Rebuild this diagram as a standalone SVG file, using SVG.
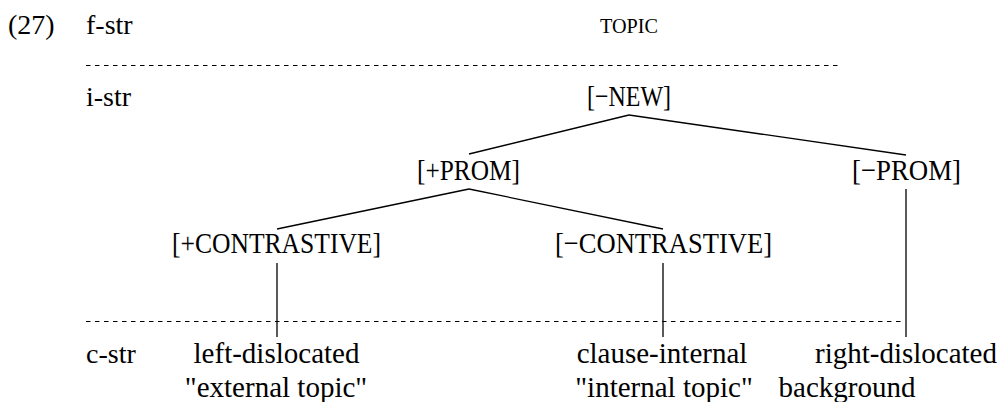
<svg xmlns="http://www.w3.org/2000/svg" width="999" height="402" viewBox="0 0 999 402" font-family="Liberation Serif, serif">
  <style>
    .lbl { font-size: 28px; }
    .leaf { font-size: 29px; text-anchor: middle; }
    .feat { font-size: 30px; text-anchor: middle; }
    .tier { stroke: #000; stroke-width: 1; stroke-dasharray: 4.5 4.5; fill: none; }
    .edge { stroke: #000; stroke-width: 1.3; fill: none; }
  </style>
  <rect width="999" height="402" fill="#fff"/>

  <!-- tier labels -->
  <g id="labels">
    <text class="lbl" x="8" y="34">(27)</text>
    <text class="lbl" x="86" y="34">f-str</text>
    <text class="lbl" x="86" y="106">i-str</text>
    <text class="lbl" x="86" y="363">c-str</text>
  </g>

  <!-- tier separators -->
  <g id="separators">
    <line class="tier" x1="86" y1="65.5" x2="840" y2="65.5"/>
    <line class="tier" x1="86" y1="321.5" x2="905" y2="321.5"/>
  </g>

  <!-- connectors -->
  <g id="connectors">
    <line class="edge" x1="629" y1="115" x2="469" y2="154"/>
    <line class="edge" x1="629" y1="115" x2="906" y2="155"/>
    <line class="edge" x1="469" y1="189" x2="277" y2="229"/>
    <line class="edge" x1="469" y1="189" x2="663" y2="229"/>
    <line class="edge" x1="906" y1="189" x2="906" y2="337"/>
    <line class="edge" x1="277" y1="263" x2="277" y2="337"/>
    <line class="edge" x1="663" y1="263" x2="663" y2="337"/>
  </g>

  <!-- f-structure -->
  <g id="topic">
    <text x="629" y="33" font-size="20" text-anchor="middle" textLength="58" lengthAdjust="spacingAndGlyphs">TOPIC</text>
  </g>

  <!-- i-structure features -->
  <g id="neg-new">
    <text class="feat" x="629" y="106" textLength="84" lengthAdjust="spacingAndGlyphs">[&#8722;NEW]</text>
  </g>
  <g id="pos-prom">
    <text class="feat" x="468.5" y="180" textLength="103" lengthAdjust="spacingAndGlyphs">[+PROM]</text>
  </g>
  <g id="neg-prom">
    <text class="feat" x="906.5" y="180" textLength="109" lengthAdjust="spacingAndGlyphs">[&#8722;PROM]</text>
  </g>
  <g id="pos-contrastive">
    <text class="feat" x="276.5" y="253" textLength="209" lengthAdjust="spacingAndGlyphs">[+CONTRASTIVE]</text>
  </g>
  <g id="neg-contrastive">
    <text class="feat" x="663.5" y="253" textLength="217" lengthAdjust="spacingAndGlyphs">[&#8722;CONTRASTIVE]</text>
  </g>

  <!-- c-structure positions -->
  <g id="left-dislocated">
    <text class="leaf" x="276.5" y="363">left-dislocated</text>
    <text class="leaf" x="276" y="397">"external topic"</text>
  </g>
  <g id="clause-internal">
    <text class="leaf" x="662" y="363">clause-internal</text>
    <text class="leaf" x="664" y="397">"internal topic"</text>
  </g>
  <g id="right-dislocated">
    <text class="leaf" x="906" y="363">right-dislocated</text>
    <text class="leaf" x="847" y="397">background</text>
  </g>
</svg>
